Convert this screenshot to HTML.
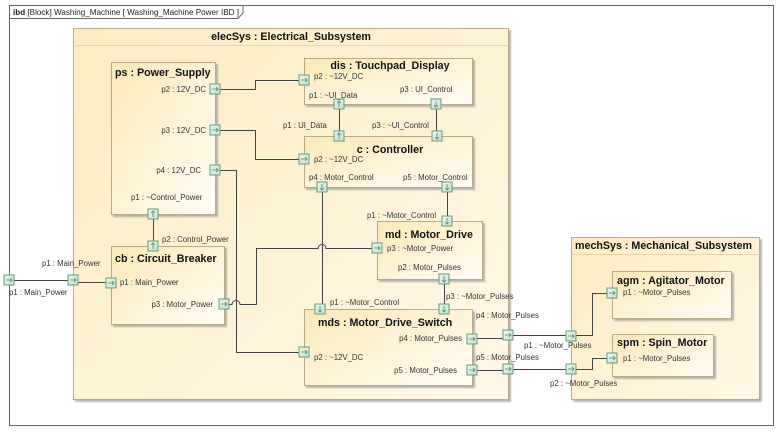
<!DOCTYPE html>
<html><head><meta charset="utf-8"><style>
html,body{margin:0;padding:0;background:#fff;}
svg{display:block;font-family:"Liberation Sans",sans-serif;}
.t{font-size:10.7px;font-weight:bold;fill:#111;}
.l{font-size:7.8px;fill:#333;}
.c{stroke:#444;stroke-width:1;fill:none;}
</style></head><body>
<svg width="781" height="432" viewBox="0 0 781 432" xmlns="http://www.w3.org/2000/svg">
<defs>
<linearGradient id="g" x1="0" y1="0" x2="1" y2="1">
<stop offset="0" stop-color="#fde9b8"/><stop offset="1" stop-color="#fffdf6"/></linearGradient>
<linearGradient id="gb" x1="0" y1="0" x2="1" y2="1">
<stop offset="0" stop-color="#fdecc2"/><stop offset="1" stop-color="#fff8e8"/></linearGradient>
<linearGradient id="pg" x1="0" y1="0" x2="1" y2="1">
<stop offset="0" stop-color="#eef6f0"/><stop offset="1" stop-color="#c7e0cf"/></linearGradient>
<filter id="sh" x="-5%" y="-5%" width="115%" height="115%"><feDropShadow dx="2" dy="2" stdDeviation="0.8" flood-color="#999" flood-opacity="0.7"/></filter>
<g id="pr"><rect x="-5" y="-5" width="10" height="10" fill="url(#pg)" stroke="#5e9e78" stroke-width="1"/><path d="M-3 0H3M1 -2L3 0L1 2" stroke="#4d8a66" stroke-width="0.8" fill="none"/></g>
<g id="pd"><rect x="-5" y="-5" width="10" height="10" fill="url(#pg)" stroke="#5e9e78" stroke-width="1"/><path d="M0 -3V3M-2 1L0 3L2 1" stroke="#4d8a66" stroke-width="0.8" fill="none"/></g>
<g id="pu"><rect x="-5" y="-5" width="10" height="10" fill="url(#pg)" stroke="#5e9e78" stroke-width="1"/><path d="M0 3V-3M-2 -1L0 -3L2 -1" stroke="#4d8a66" stroke-width="0.8" fill="none"/></g>
</defs>
<!-- frame -->
<rect x="9.5" y="5.5" width="764" height="420" fill="#fff" stroke="#666" stroke-width="1"/>
<path d="M9.5 18.5H238L243 13V5.5" fill="none" stroke="#666"/>
<text x="13" y="15" style="font-size:8px" fill="#222" textLength="226" lengthAdjust="spacingAndGlyphs"><tspan font-weight="bold">ibd</tspan> [Block] Washing_Machine [ Washing_Machine Power IBD ]</text>

<!-- elecSys -->
<rect x="73.5" y="28.5" width="435" height="371" fill="url(#gb)" stroke="#b9ab86" filter="url(#sh)"/>
<line x1="73.5" y1="45.5" x2="508.5" y2="45.5" stroke="#e6d6a8"/>
<text x="291" y="40" class="t" text-anchor="middle">elecSys : Electrical_Subsystem</text>

<!-- mechSys -->
<rect x="571.5" y="237.5" width="188" height="162" fill="url(#gb)" stroke="#b9ab86" filter="url(#sh)"/>
<line x1="571.5" y1="254.5" x2="759.5" y2="254.5" stroke="#e6d6a8"/>
<text x="575" y="249" class="t">mechSys : Mechanical_Subsystem</text>

<!-- blocks -->
<g fill="url(#g)" stroke="#b9ab86" filter="url(#sh)">
<rect x="111.5" y="62.5" width="104" height="152"/>
<rect x="111.5" y="246.5" width="113" height="78"/>
<rect x="304.5" y="58.5" width="168" height="46"/>
<rect x="304.5" y="136.5" width="168" height="51"/>
<rect x="377.5" y="221.5" width="105" height="58"/>
<rect x="304.5" y="309.5" width="168" height="76"/>
<rect x="612.5" y="271.5" width="119" height="47"/>
<rect x="612.5" y="334.5" width="101" height="42"/>
</g>
<text x="115" y="76" class="t">ps : Power_Supply</text>
<text x="115" y="262" class="t">cb : Circuit_Breaker</text>
<text x="390" y="69" class="t" text-anchor="middle">dis : Touchpad_Display</text>
<text x="390" y="153" class="t" text-anchor="middle">c : Controller</text>
<text x="385" y="238" class="t">md : Motor_Drive</text>
<text x="318" y="326" class="t">mds : Motor_Drive_Switch</text>
<text x="617" y="284" class="t">agm : Agitator_Motor</text>
<text x="617" y="346" class="t">spm : Spin_Motor</text>

<!-- connectors -->
<g class="c">
<path d="M220 89.5H255.5V80.5H299"/>
<path d="M220 130.5H255.5V159.5H299"/>
<path d="M220 170.5H236.5V352.5H299"/>
<path d="M153.5 219V241"/>
<path d="M14 280.5H68"/>
<path d="M78 282.5H106"/>
<path d="M229 304.5H232a4 4 0 0 1 8 0H256.5V248.5H318a4 4 0 0 1 8 0H372"/>
<path d="M339.5 109V131"/>
<path d="M436.5 109V131"/>
<path d="M322.5 192V304"/>
<path d="M447.5 192V216"/>
<path d="M444.5 284V304"/>
<path d="M477 338.5H503"/>
<path d="M513 335.5H566"/>
<path d="M576 335.5H592.5V293.5H607"/>
<path d="M477 370.5H503"/>
<path d="M513 369.5H566"/>
<path d="M576 369.5H592.5V358.5H607"/>
</g>

<!-- ports -->
<use href="#pr" x="215" y="89"/>
<use href="#pr" x="215" y="130"/>
<use href="#pr" x="215" y="170"/>
<use href="#pu" x="153" y="214"/>
<use href="#pu" x="153" y="246"/>
<use href="#pr" x="9" y="280"/>
<use href="#pr" x="73" y="280"/>
<use href="#pr" x="111" y="283"/>
<use href="#pr" x="224" y="304"/>
<use href="#pr" x="304" y="80"/>
<use href="#pu" x="339" y="104"/>
<use href="#pd" x="436" y="104"/>
<use href="#pu" x="339" y="136"/>
<use href="#pd" x="437" y="136"/>
<use href="#pr" x="304" y="159"/>
<use href="#pd" x="322" y="187"/>
<use href="#pd" x="447" y="187"/>
<use href="#pd" x="447" y="221"/>
<use href="#pr" x="377" y="248"/>
<use href="#pd" x="444" y="279"/>
<use href="#pd" x="320" y="309"/>
<use href="#pd" x="444" y="309"/>
<use href="#pr" x="304" y="352"/>
<use href="#pr" x="472" y="339"/>
<use href="#pr" x="472" y="370"/>
<use href="#pr" x="508" y="335"/>
<use href="#pr" x="508" y="369"/>
<use href="#pr" x="571" y="336"/>
<use href="#pr" x="571" y="369"/>
<use href="#pr" x="612" y="293"/>
<use href="#pr" x="612" y="358"/>

<!-- labels -->
<g class="l">
<text x="206" y="92" text-anchor="end">p2 : 12V_DC</text>
<text x="206" y="133" text-anchor="end">p3 : 12V_DC</text>
<text x="201" y="173" text-anchor="end">p4 : 12V_DC</text>
<text x="131" y="200">p1 : ~Control_Power</text>
<text x="162" y="242">p2 : Control_Power</text>
<text x="42" y="266">p1 : Main_Power</text>
<text x="9" y="295">p1 : Main_Power</text>
<text x="120" y="285">p1 : Main_Power</text>
<text x="213" y="307" text-anchor="end">p3 : Motor_Power</text>
<text x="314" y="79">p2 : ~12V_DC</text>
<text x="309" y="98">p1 : ~UI_Data</text>
<text x="400" y="92">p3 : UI_Control</text>
<text x="283" y="128">p1 : UI_Data</text>
<text x="372" y="128">p3 : ~UI_Control</text>
<text x="314" y="162">p2 : ~12V_DC</text>
<text x="309" y="180">p4 : Motor_Control</text>
<text x="403" y="180">p5 : Motor_Control</text>
<text x="367" y="218">p1 : ~Motor_Control</text>
<text x="387" y="251">p3 : ~Motor_Power</text>
<text x="398" y="270">p2 : Motor_Pulses</text>
<text x="446" y="299">p3 : ~Motor_Pulses</text>
<text x="330" y="305">p1 : ~Motor_Control</text>
<text x="462" y="341" text-anchor="end">p4 : Motor_Pulses</text>
<text x="314" y="360">p2 : ~12V_DC</text>
<text x="457" y="373" text-anchor="end">p5 : Motor_Pulses</text>
<text x="476" y="318">p4 : Motor_Pulses</text>
<text x="476" y="360">p5 : Motor_Pulses</text>
<text x="524" y="348">p1 : ~Motor_Pulses</text>
<text x="550" y="386">p2 : ~Motor_Pulses</text>
<text x="623" y="295">p1 : ~Motor_Pulses</text>
<text x="623" y="361">p1 : ~Motor_Pulses</text>
</g>
</svg>
</body></html>
